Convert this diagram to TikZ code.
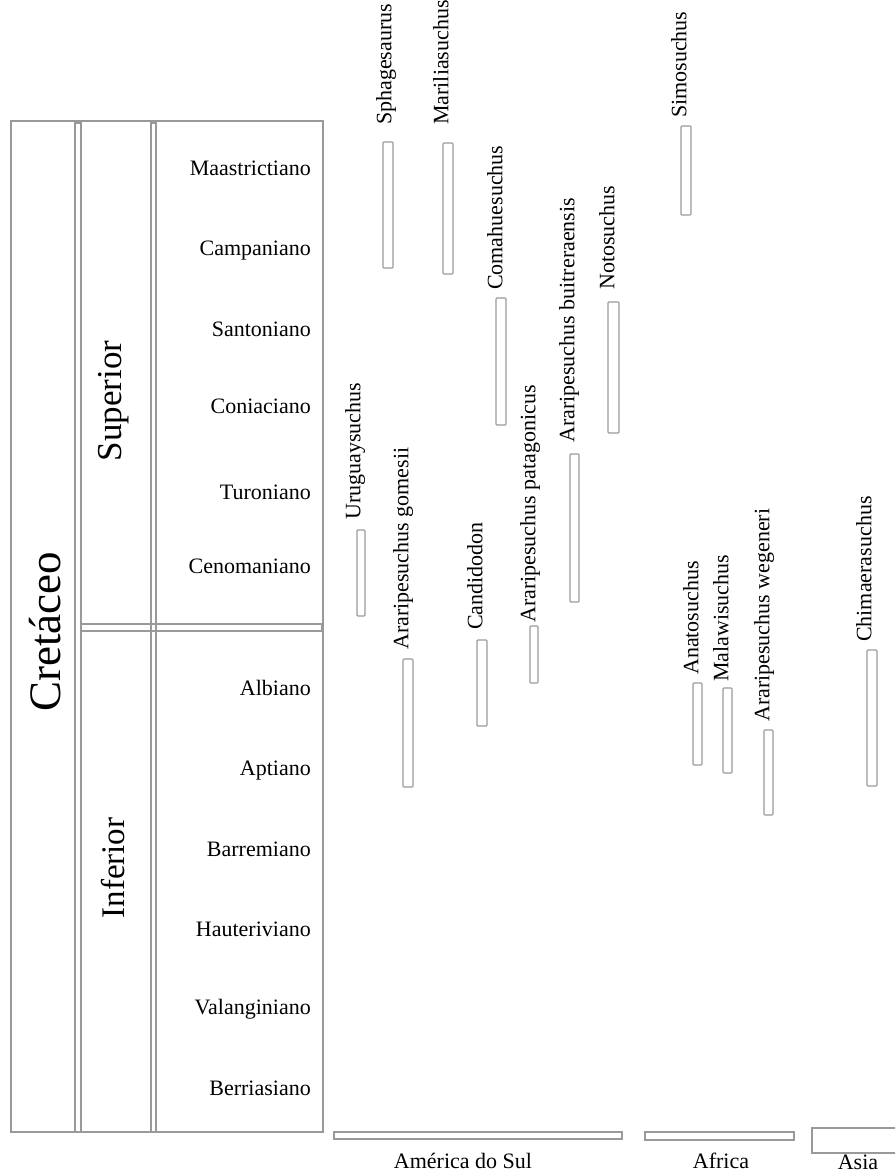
\documentclass[tikz,border=0pt]{standalone}
\usepackage{fontspec}
\setmainfont{Liberation Serif}
\tikzset{
  box/.style={draw=black!40, line width=1.1pt},
  bar/.style={draw=black!40, line width=1.1pt, rounded corners=0.8pt},
  lbl/.style={font=\fontsize{22}{26}\selectfont, inner sep=0pt, text=black},
  vlbl/.style={lbl, rotate=90, anchor=mid west},
  stage/.style={lbl, anchor=base east},
}
\newcommand\taxon[8]{%
  \draw[bar] (#2,#4) rectangle (#3,#5);
  \node[vlbl] (#1) at (#6,#7) {#8};}
\begin{document}
\begin{tikzpicture}[x=1pt,y=-1pt]
\useasboundingbox (0,0) rectangle (895,1173);
% main frame
\draw[box] (11,121) rectangle (323,1132);
\draw[box] (75,123) rectangle (81,1132);
\draw[box] (151,123) rectangle (156,1132);
\draw[box] (81,624) rectangle (322,631);
% big labels
\node[lbl, rotate=90, anchor=base, font=\fontsize{45}{50}\selectfont] (cret) at (60,632) {Cretáceo};
\node[lbl, rotate=90, anchor=base, font=\fontsize{35}{40}\selectfont] (sup) at (121,401) {Superior};
\node[lbl, rotate=90, anchor=base, font=\fontsize{33}{38}\selectfont] (inf) at (124,868) {Inferior};
% stages
\node[stage] (maa) at (311,175) {Maastrictiano};
\node[stage] (cam) at (311,255) {Campaniano};
\node[stage] (san) at (311,336) {Santoniano};
\node[stage] (con) at (311,413) {Coniaciano};
\node[stage] (tur) at (311,499) {Turoniano};
\node[stage] (cen) at (311,573) {Cenomaniano};
\node[stage] (alb) at (311,695) {Albiano};
\node[stage] (apt) at (311,775) {Aptiano};
\node[stage] (bar) at (311,856) {Barremiano};
\node[stage] (hau) at (311,936) {Hauteriviano};
\node[stage] (val) at (311,1014) {Valanginiano};
\node[stage] (ber) at (311,1095) {Berriasiano};
% taxa
\taxon{sph}{383}{393}{142}{268}{389}{125}{Sphagesaurus}
\taxon{mar}{443}{453}{143}{274}{446}{125}{Mariliasuchus}
\taxon{com}{496}{506}{298}{425}{500}{290}{Comahuesuchus}
\taxon{not}{608}{619}{302}{433}{612}{290}{Notosuchus}
\taxon{abu}{570}{579}{454}{602}{572}{443}{Araripesuchus buitreraensis}
\taxon{sim}{681}{691}{126}{215}{684}{118}{Simosuchus}
\taxon{uru}{357}{365}{530}{616}{358}{520}{Uruguaysuchus}
\taxon{ago}{403}{413}{659}{787}{406}{650}{Araripesuchus gomesii}
\taxon{can}{477}{487}{640}{726}{480}{630}{Candidodon}
\taxon{apa}{530}{538}{626}{683}{533}{623}{Araripesuchus patagonicus}
\taxon{ana}{693}{702}{683}{765}{696}{675}{Anatosuchus}
\taxon{mal}{723}{732}{688}{773}{726}{682}{Malawisuchus}
\taxon{awe}{764}{773}{730}{815}{767}{722}{Araripesuchus wegeneri}
\taxon{chi}{867}{877}{650}{786}{869}{642}{Chimaerasuchus}
% continents
\draw[box] (334,1132) rectangle (622,1139);
\draw[box] (645,1132) rectangle (794,1140);
\begin{scope}
\clip (0,0) rectangle (895,1173);
\draw[box] (812,1128) rectangle (900,1153);
\end{scope}
\node[lbl, anchor=base] (ams) at (463,1168) {América do Sul};
\node[lbl, anchor=base] (afr) at (721,1168) {Africa};
\node[lbl, anchor=base] (asi) at (858,1169) {Asia};
\end{tikzpicture}
\end{document}
